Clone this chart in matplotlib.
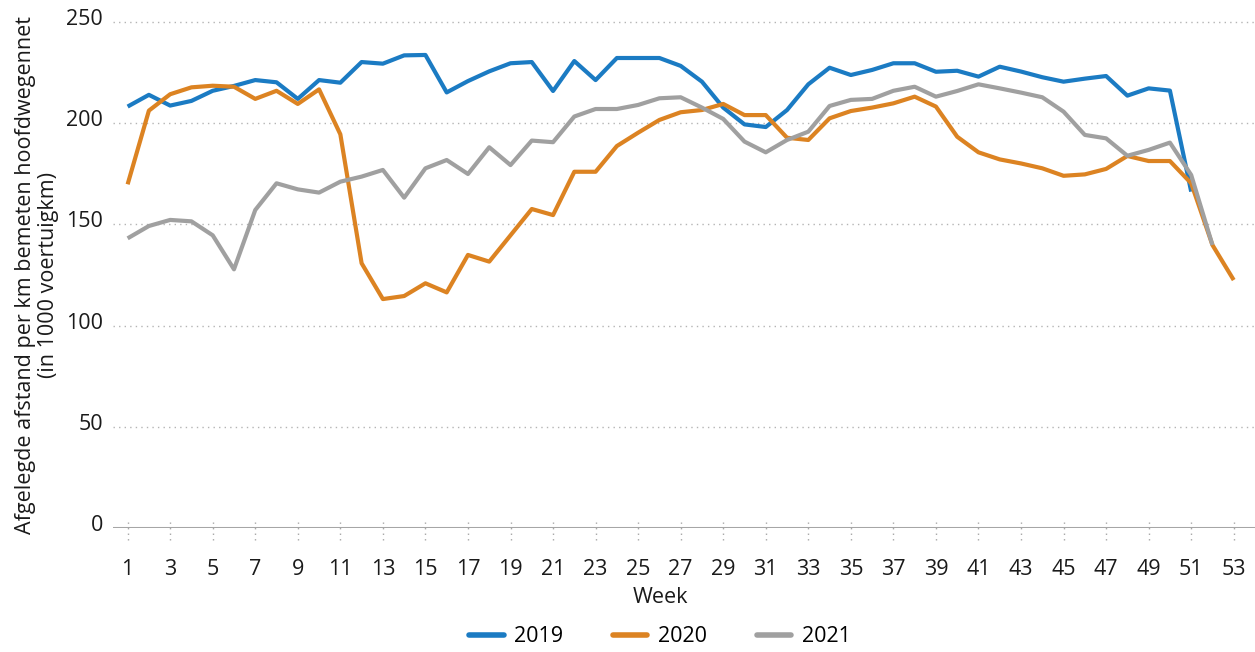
import numpy as np
import matplotlib.pyplot as plt
from matplotlib.transforms import ScaledTranslation

plt.rcParams["font.family"] = ["Open Sans", "DejaVu Sans"]

WEEKS_2019 = list(range(1, 52))
WEEKS_2020 = list(range(1, 54))
WEEKS_2021 = list(range(1, 53))

VALUES_2019 = [
    208.2, 214.0, 208.7, 211.0, 216.0, 218.4, 221.3, 220.2, 212.0, 221.3,
    220.0, 230.2, 229.4, 233.5, 233.7, 215.2, 220.8, 225.6, 229.6, 230.2,
    215.9, 230.7, 221.3, 232.2, 232.2, 232.2, 228.3, 220.5, 207.7, 199.4,
    198.1, 206.5, 219.2, 227.4, 223.8, 226.3, 229.6, 229.6, 225.4, 225.9,
    223.0, 227.9, 225.5, 222.7, 220.5, 222.0, 223.3, 213.6, 217.2, 216.1,
    166.2,
]
VALUES_2020 = [
    169.8, 206.2, 214.3, 217.7, 218.5, 218.0, 212.0, 216.0, 209.5, 216.7,
    194.5, 130.8, 113.1, 114.6, 120.9, 116.4, 134.9, 131.6, 144.6, 157.6,
    154.6, 176.0, 176.0, 188.7, 195.3, 201.6, 205.4, 206.5, 209.5, 204.0,
    204.0, 192.8, 191.7, 202.4, 206.0, 207.7, 209.8, 213.1, 208.2, 193.3,
    185.6, 182.1, 180.1, 177.7, 174.0, 174.7, 177.4, 183.8, 181.3, 181.3,
    170.3, 139.8, 122.5,
]
VALUES_2021 = [
    143.1, 149.2, 152.2, 151.5, 144.6, 127.8, 157.1, 170.3, 167.3, 165.7,
    171.1, 173.6, 176.9, 163.2, 177.7, 181.8, 174.9, 188.1, 179.3, 191.4,
    190.6, 203.3, 207.0, 207.0, 209.0, 212.3, 212.8, 207.7, 202.1, 190.9,
    185.6, 191.7, 195.8, 208.5, 211.5, 212.0, 216.0, 218.0, 213.1, 215.9,
    219.2, 217.2, 215.1, 212.8, 205.7, 194.2, 192.5, 183.9, 186.8, 190.4,
    174.4, 139.8,
]

SERIES = [
    ("2019", WEEKS_2019, VALUES_2019, "#1b7bc3"),
    ("2020", WEEKS_2020, VALUES_2020, "#dc8322"),
    ("2021", WEEKS_2021, VALUES_2021, "#a0a0a0"),
]

X_TICKS = list(range(1, 54, 2))
Y_TICKS = [0, 50, 100, 150, 200, 250]

fig = plt.figure(figsize=(12.55, 6.52), dpi=100)
ax = fig.add_axes([0.090, 0.1902, 0.910, 0.7761])

for name, weeks, vals, color in SERIES:
    ax.plot(weeks, vals, color=color, linewidth=3.0, label=name,
            solid_joinstyle="round", solid_capstyle="butt", zorder=3)

ax.set_xlim(0.31, 54.0)
ax.set_ylim(0, 250)

# dotted horizontal grid
for y in Y_TICKS[1:]:
    ax.axhline(y, color="#b4b4b4", linewidth=1.0, dashes=(1, 3), zorder=1,
               clip_on=False)
# baseline
ax.axhline(0, color="#a6a6a6", linewidth=2.2, zorder=2)
# dotted tick marks
ax.vlines(X_TICKS, -6, 3, colors="#a6a6a6", linewidth=1.0,
          linestyles=(0, (1, 3)), clip_on=False, zorder=2)

for side in ["top", "right", "left", "bottom"]:
    ax.spines[side].set_visible(False)

ax.set_xticks(X_TICKS)
ax.set_xticklabels([str(w) for w in X_TICKS])
ax.set_yticks(Y_TICKS)
ax.set_yticklabels([str(v) for v in Y_TICKS])
ax.tick_params(axis="x", length=0, pad=22, labelsize=15.5, labelcolor="#1a1a1a")
ax.tick_params(axis="y", length=0, pad=7, labelsize=15.5, labelcolor="#1a1a1a")

shift = ScaledTranslation(0, 5 / 100, fig.dpi_scale_trans)
for lab in ax.get_yticklabels():
    lab.set_transform(lab.get_transform() + shift)

ax.set_xlabel("Week", fontsize=15.5, color="#1a1a1a")
ax.xaxis.set_label_coords(0.479, -0.117)

fig.text(0.0295, 0.578,
         "Afgelegde afstand per km bemeten hoofdwegennet\n(in 1000 voertuigkm)",
         rotation=90, ha="center", va="center", multialignment="center",
         fontsize=15.5, color="#1a1a1a", linespacing=1.1)

handles, labels = ax.get_legend_handles_labels()
leg = fig.legend(handles, labels, loc="center", ncol=3, frameon=False,
                 bbox_to_anchor=(660 / 1255, 1 - 637 / 652),
                 fontsize=15.5, handlelength=1.6, handletextpad=0.5,
                 columnspacing=2.3)
for line in leg.get_lines():
    line.set_linewidth(4)
    line.set_solid_capstyle("round")

fig.savefig("out.png", dpi=100)
